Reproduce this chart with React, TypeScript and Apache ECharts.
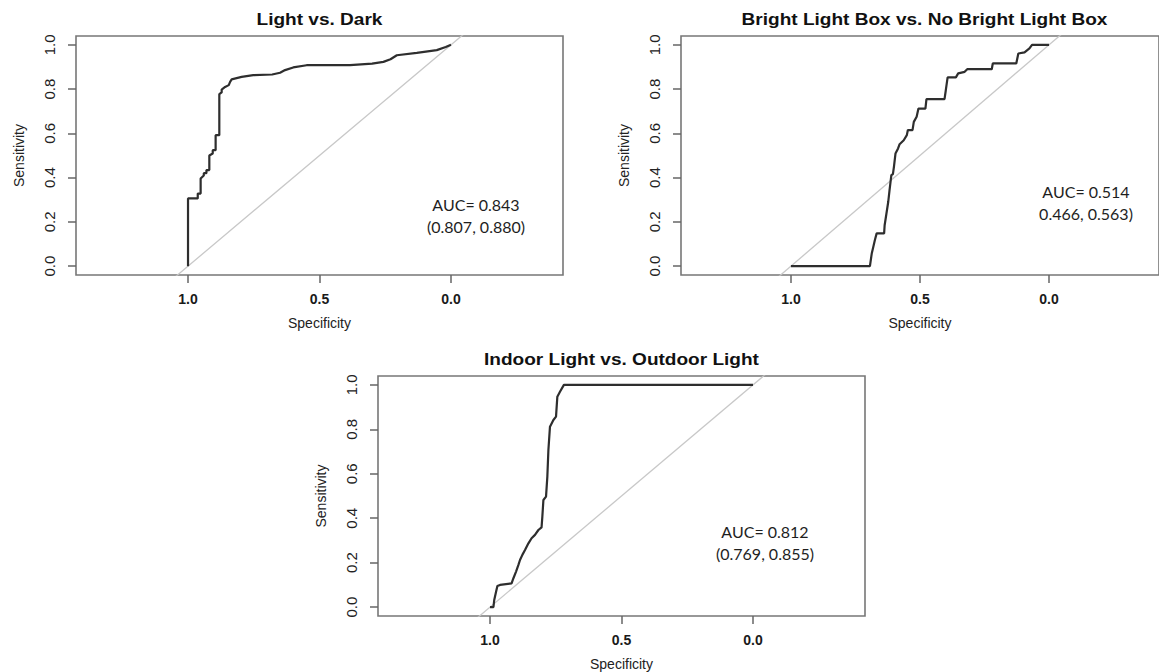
import React, { useEffect, useRef } from "react";
import * as echarts from "echarts";

// ---- data ----
const titles = [
  "Light vs. Dark",
  "Bright Light Box vs. No Bright Light Box",
  "Indoor Light vs. Outdoor Light",
];

const xTickValues = [0, 0.5, 1];
const yTickValues = [0, 0.2, 0.4, 0.6, 0.8, 1];

// Panel 1: Light vs. Dark
const p1Spec = [1.0, 1.0, 0.963, 0.963, 0.952, 0.952, 0.94, 0.94, 0.93, 0.93, 0.919, 0.919, 0.906, 0.906, 0.895, 0.895, 0.881, 0.881, 0.872, 0.872, 0.859, 0.845, 0.84, 0.834, 0.796, 0.752, 0.68, 0.65, 0.631, 0.6, 0.549, 0.384, 0.3, 0.257, 0.23, 0.206, 0.13, 0.054, 0.02, 0.0];
const p1Sens = [0.0, 0.306, 0.306, 0.328, 0.328, 0.396, 0.41, 0.42, 0.42, 0.434, 0.434, 0.5, 0.509, 0.524, 0.524, 0.592, 0.592, 0.777, 0.785, 0.798, 0.81, 0.818, 0.833, 0.844, 0.855, 0.863, 0.866, 0.874, 0.886, 0.898, 0.908, 0.908, 0.915, 0.923, 0.935, 0.953, 0.964, 0.976, 0.99, 1.0];

// Panel 2: Bright Light Box vs. No Bright Light Box
const p2Spec = [1.0, 0.694, 0.687, 0.681, 0.675, 0.668, 0.639, 0.637, 0.63, 0.623, 0.618, 0.611, 0.605, 0.601, 0.595, 0.585, 0.579, 0.563, 0.551, 0.547, 0.529, 0.524, 0.513, 0.506, 0.479, 0.475, 0.405, 0.4, 0.393, 0.361, 0.352, 0.327, 0.317, 0.222, 0.218, 0.127, 0.119, 0.095, 0.076, 0.066, 0.0];
const p2Sens = [0.0, 0.0, 0.057, 0.087, 0.117, 0.148, 0.148, 0.185, 0.238, 0.291, 0.343, 0.411, 0.416, 0.449, 0.509, 0.532, 0.551, 0.569, 0.592, 0.615, 0.615, 0.652, 0.675, 0.712, 0.712, 0.755, 0.755, 0.795, 0.853, 0.853, 0.871, 0.878, 0.89, 0.89, 0.916, 0.916, 0.961, 0.966, 0.984, 1.0, 1.0];

// Panel 3: Indoor Light vs. Outdoor Light
const p3Spec = [1.0, 0.987, 0.984, 0.977, 0.972, 0.962, 0.918, 0.911, 0.901, 0.892, 0.886, 0.877, 0.867, 0.854, 0.842, 0.829, 0.816, 0.804, 0.801, 0.797, 0.787, 0.782, 0.778, 0.772, 0.759, 0.749, 0.744, 0.734, 0.719, 0.0];
const p3Sens = [0.0, 0.0, 0.032, 0.069, 0.095, 0.1, 0.107, 0.13, 0.16, 0.19, 0.212, 0.235, 0.257, 0.287, 0.31, 0.325, 0.347, 0.359, 0.407, 0.482, 0.497, 0.587, 0.707, 0.812, 0.842, 0.857, 0.947, 0.969, 1.0, 1.0];

// chance line: sensitivity = 1 - specificity
const chanceSpec = [1.6, -0.6];
const chanceSens = [-0.6, 1.6];

const aucLines = [
  ["AUC= 0.843", "(0.807, 0.880)"],
  ["AUC= 0.514", "0.466, 0.563)"],
  ["AUC= 0.812", "(0.769, 0.855)"],
];

const specs = [p1Spec, p2Spec, p3Spec];
const senses = [p1Sens, p2Sens, p3Sens];

// ---- layout ----
const grids = [
  { left: 76, top: 36, width: 487, height: 239 },
  { left: 681, top: 36, width: 487, height: 239 },
  { left: 378, top: 376, width: 487, height: 240 },
];
const aucPos = [
  { x: 476, y: 204 },
  { x: 1086, y: 191 },
  { x: 765, y: 531 },
];

const SANS = "'Liberation Sans', Arial, Helvetica, sans-serif";

export default function App() {
  const ref = useRef<HTMLDivElement>(null);
  useEffect(() => {
    if (!ref.current) return;
    const chart = echarts.init(ref.current, undefined, { renderer: "svg" });

    const xAxis = grids.map((_, i) => ({
      type: "value",
      gridIndex: i,
      inverse: true,
      min: -0.426,
      max: 1.426,
      position: "bottom",
      name: "Specificity",
      nameLocation: "middle",
      nameGap: 41,
      nameTextStyle: { fontFamily: SANS, fontSize: 14, color: "#222" },
      axisLine: { show: false, onZero: false },
      splitLine: { show: false },
      axisTick: {
        show: true,
        length: 8,
        customValues: xTickValues,
        lineStyle: { color: "#666", width: 1.5 },
      },
      axisLabel: {
        customValues: xTickValues,
        formatter: (v: number) => v.toFixed(1),
        fontFamily: SANS,
        fontSize: 14,
        fontWeight: "bold",
        color: "#1a1a1a",
        margin: 17,
      },
    }));

    const yAxis = grids.map((_, i) => ({
      type: "value",
      gridIndex: i,
      min: -0.04,
      max: 1.04,
      position: "left",
      name: "Sensitivity",
      nameLocation: "middle",
      nameGap: 50,
      nameTextStyle: { fontFamily: SANS, fontSize: 14, color: "#222" },
      axisLine: { show: false, onZero: false },
      splitLine: { show: false },
      axisTick: {
        show: true,
        length: 8,
        customValues: yTickValues,
        lineStyle: { color: "#666", width: 1.5 },
      },
      axisLabel: {
        customValues: yTickValues,
        formatter: (v: number) => v.toFixed(1),
        rotate: 90,
        fontFamily: SANS,
        fontSize: 15,
        color: "#222",
        margin: 19,
      },
    }));

    const series: any[] = [];
    grids.forEach((_, i) => {
      series.push({
        type: "line",
        xAxisIndex: i,
        yAxisIndex: i,
        data: chanceSpec.map((s, k) => [s, chanceSens[k]]),
        showSymbol: false,
        clip: true,
        lineStyle: { color: "#c8c8c8", width: 1.3 },
        z: 1,
      });
      series.push({
        type: "line",
        xAxisIndex: i,
        yAxisIndex: i,
        data: specs[i].map((s, k) => [s, senses[i][k]]),
        showSymbol: false,
        clip: true,
        lineStyle: { color: "#2e2e2e", width: 2.2 },
        z: 2,
      });
    });

    const graphic: any[] = [];
    grids.forEach((g, i) => {
      graphic.push({
        type: "text",
        x: g.left + g.width / 2,
        y: g.top - 16,
        scaleX: 1.19,
        style: {
          text: titles[i],
          fontFamily: SANS,
          fontSize: 16,
          fontWeight: "bold",
          fill: "#111",
          textAlign: "center",
          textVerticalAlign: "middle",
        },
      });
      aucLines[i].forEach((line, k) => {
        graphic.push({
          type: "text",
          x: aucPos[i].x,
          y: aucPos[i].y + k * 22,
          style: {
            text: line,
            fontFamily: "Lato, 'Open Sans', sans-serif",
            fontSize: 16,
            fill: "#1e1e1e",
            textAlign: "center",
            textVerticalAlign: "middle",
          },
        });
      });
    });

    chart.setOption({
      animation: false,
      backgroundColor: "#fff",
      grid: grids.map((g) => ({
        ...g,
        show: true,
        borderColor: "#777",
        borderWidth: 1.6,
        containLabel: false,
      })),
      xAxis,
      yAxis,
      series,
      graphic,
    });
    return () => chart.dispose();
  }, []);

  return (
    <div
      ref={ref}
      style={{ position: "fixed", left: 0, top: 0, width: 1159, height: 672, background: "#fff" }}
    />
  );
}
